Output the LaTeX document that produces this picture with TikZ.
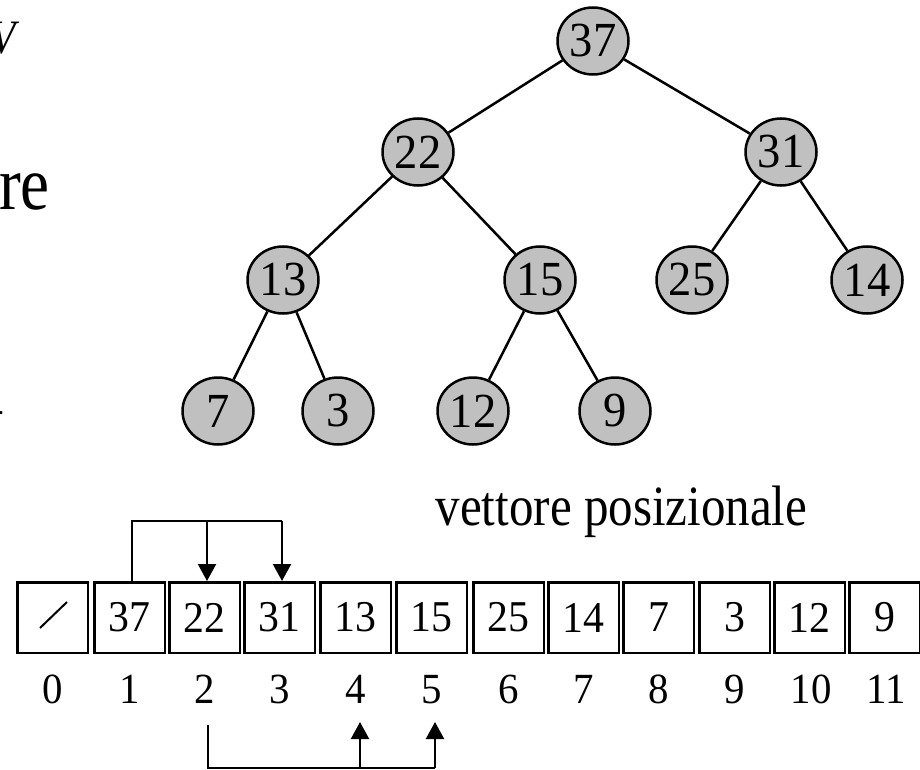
\documentclass[tikz,border=0pt]{standalone}
\usepackage{fontspec}
\setmainfont[FakeStretch=0.86]{Liberation Serif}
\newfontfamily\digitfont[FakeStretch=0.95]{Liberation Serif}
\usetikzlibrary{shapes.geometric,arrows.meta}
\definecolor{nodegray}{RGB}{192,192,192}
\begin{document}
\begin{tikzpicture}[x=1pt,y=-1pt,
  hnode/.style={ellipse, draw, line width=2.5pt, fill=nodegray, minimum width=71pt, minimum height=67pt, inner sep=0pt, font=\digitfont\fontsize{49}{49}\selectfont},
  edge/.style={line width=2.5pt},
  cell/.style={draw, line width=2.5pt, minimum width=70.5pt, minimum height=70.5pt, inner sep=0pt, font=\digitfont\fontsize{44}{44}\selectfont},
  idx/.style={inner sep=0pt, font=\digitfont\fontsize{43}{43}\selectfont},
  link/.style={line width=2.2pt},
  linkarrow/.style={line width=2.2pt, -{Triangle[width=18pt,length=17pt]}},
  bigtext/.style={inner sep=0pt, font=\fontsize{57}{57}\selectfont}
]
\useasboundingbox (0,0) rectangle (920,770);

% tree
\node[hnode] (n37) at (593,41) {37};
\node[hnode] (n22) at (418,152) {22};
\node[hnode] (n31) at (781,152) {31};
\node[hnode] (n13) at (283,280) {13};
\node[hnode] (n15) at (540,280) {15};
\node[hnode] (n25) at (692,280) {25};
\node[hnode] (n14) at (867,280) {14};
\node[hnode] (n7)  at (218,411) {7};
\node[hnode] (n3)  at (338,411) {3};
\node[hnode] (n12) at (473,411) {12};
\node[hnode] (n9)  at (615,411) {9};

\draw[edge] (n37) -- (n22);
\draw[edge] (n37) -- (n31);
\draw[edge] (n22) -- (n13);
\draw[edge] (n22) -- (n15);
\draw[edge] (n31) -- (n25);
\draw[edge] (n31) -- (n14);
\draw[edge] (n13) -- (n7);
\draw[edge] (n13) -- (n3);
\draw[edge] (n15) -- (n12);
\draw[edge] (n15) -- (n9);

% partial texts at left edge
\node[inner sep=0pt, anchor=base east, font=\fontsize{48}{48}\selectfont\itshape] (tV) at (16,54) {V};
\node[inner sep=0pt, anchor=base west, font=\fontsize{76}{76}\selectfont] (tre) at (-1,209) {re};
\node[inner sep=0pt, anchor=base east, font=\fontsize{40}{40}\selectfont] (tdash) at (4.5,422) {-};

% label
\node[bigtext, anchor=base] (lab) at (621.5,525) {vettore posizionale};

% array
\node[cell] (b0)  at (52.5,617.5) {};
\node[cell] (b1)  at (129.5,617.5) {37};
\node[cell] (b2)  at (204.5,617.5) {22};
\node[cell] (b3)  at (279.5,617.5) {31};
\node[cell] (b4)  at (355.5,617.5) {13};
\node[cell] (b5)  at (431.5,617.5) {15};
\node[cell] (b6)  at (508.5,617.5) {25};
\node[cell] (b7)  at (583.5,617.5) {14};
\node[cell] (b8)  at (658.5,617.5) {7};
\node[cell] (b9)  at (734.5,617.5) {3};
\node[cell] (b10) at (809.5,617.5) {12};
\node[cell] (b11) at (884.5,617.5) {9};
\draw[line width=2pt] (40,628) -- (67,602);

% indices
\foreach \i/\x in {0/52.5,1/129.5,2/204.5,3/279.5,4/355.5,5/431.5,6/508.5,7/583.5,8/658.5,9/734.5,10/811,11/886}{
  \node[idx, anchor=base] (i\i) at (\x,703) {\i};
}

% top connectors
\coordinate (t1) at (132,521);
\coordinate (t2) at (207,521);
\coordinate (t3) at (282,521);
\draw[link] (b1.north -| t1) -- (t1) -- (t3);
\draw[linkarrow] (t2) -- (b2.north -| t2);
\draw[linkarrow] (t3) -- (b3.north -| t3);

% bottom connectors
\coordinate (s2) at (208,725);
\coordinate (c2) at (208,768);
\coordinate (c4) at (360,768);
\coordinate (c5) at (435,768);
\draw[link] (s2) -- (c2) -- (c5);
\draw[linkarrow] (c4) -- (360,722);
\draw[linkarrow] (c5) -- (435,722);
\end{tikzpicture}
\end{document}
